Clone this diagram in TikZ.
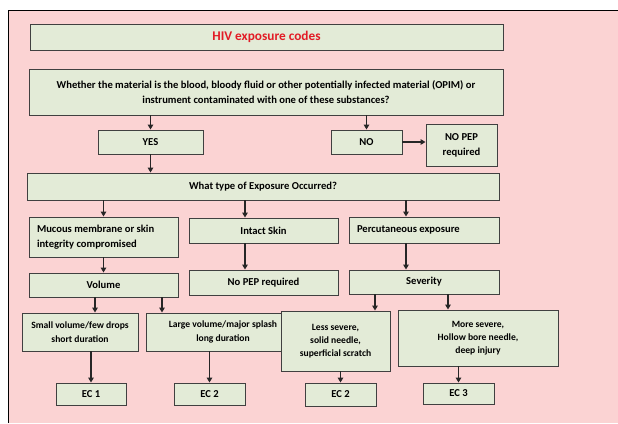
\documentclass[tikz,border=0pt]{standalone}
\usepackage{fontspec}
\setmainfont{Carlito}
\usetikzlibrary{arrows.meta}

\definecolor{bgpink}{RGB}{251,211,211}
\definecolor{boxgreen}{RGB}{227,235,215}
\definecolor{boxline}{RGB}{64,64,64}
\definecolor{titlered}{RGB}{226,28,38}

\tikzset{
	codebox/.style={draw=boxline, line width=0.9pt, fill=boxgreen, inner sep=0pt,
		align=center, font=\fontsize{10.6}{15}\selectfont\bfseries},
	smalltext/.style={font=\fontsize{9.6}{14}\selectfont\bfseries},
	flow/.style={-{Triangle[length=5pt,width=5.5pt]}, line width=1.6pt, black!85}
}

\begin{document}
\begin{tikzpicture}
	\pgfsetxvec{\pgfpoint{1pt}{0pt}}
	\pgfsetyvec{\pgfpoint{0pt}{-1pt}}
	\useasboundingbox (0,0) rectangle (618,423);

	% background sheet
	\fill[bgpink] (8,10) rectangle (618,423);
	\draw[line width=1pt] (8,423) -- (8,10) -- (618,10);

	\node[codebox, minimum width=473, minimum height=26, text=titlered,
		font=\fontsize{13.3}{15}\selectfont\bfseries] at (266.5,37) (title) {HIV exposure codes};
	\node[codebox, minimum width=474, minimum height=46] at (266,92) (question)
		{Whether the material is the blood, bloody fluid or other potentially infected material (OPIM) or\\
		instrument contaminated with one of these substances?};
	\node[codebox, minimum width=105, minimum height=24] at (150.5,142) (yes) {YES};
	\node[codebox, minimum width=71, minimum height=24] at (366.5,142) (no) {NO};
	\node[codebox, minimum width=71, minimum height=42] at (461.5,145) (nopep) {NO PEP\\required};
	\node[codebox, minimum width=472, minimum height=27] at (263,186.5) (exposure) {What type of Exposure Occurred?};

	\node[codebox, minimum width=149, minimum height=40, align=flush left, text width=133] at (103.5,237) (mucous)
		{Mucous membrane or skin\\integrity compromised};
	\node[codebox, minimum width=149, minimum height=25] at (263.5,230.5) (intact) {Intact Skin};
	\node[codebox, minimum width=150, minimum height=26, align=flush left, text width=134] at (424,230) (percut)
		{Percutaneous exposure};

	\node[codebox, minimum width=149, minimum height=24] at (103.5,285) (volume) {Volume};
	\node[codebox, minimum width=149, minimum height=25] at (263.5,282.5) (nopepskin) {No PEP required};
	\node[codebox, minimum width=150, minimum height=24] at (424,282) (severity) {Severity};

	\node[codebox, smalltext, minimum width=116, minimum height=38] at (80,332) (small)
		{Small volume/few drops\\short duration};
	\node[codebox, smalltext, minimum width=154, minimum height=38] at (223,332) (large)
		{Large volume/major splash\\long duration};
	\node[codebox, minimum width=109, minimum height=60, font=\fontsize{9.6}{13}\selectfont\bfseries] at (335.5,341) (less)
		{Less severe,\\solid needle,\\superficial scratch};
	\node[codebox, minimum width=160, minimum height=56, font=\fontsize{9.6}{13}\selectfont\bfseries] at (478,338) (more)
		{More severe,\\Hollow bore needle,\\deep injury};

	\node[codebox, minimum width=70, minimum height=22] at (91,394) (ec1) {EC 1};
	\node[codebox, minimum width=71, minimum height=22] at (209.5,394) (ec2a) {EC 2};
	\node[codebox, minimum width=71, minimum height=23] at (340.5,394.5) (ec2b) {EC 2};
	\node[codebox, minimum width=71, minimum height=21] at (458.5,393.5) (ec3) {EC 3};

	% x positions of the off-centre arrows
	\coordinate (xintact) at (245,0);
	\coordinate (xpercut) at (406,0);
	\coordinate (xsmall) at (95,0);
	\coordinate (xlarge) at (162,0);
	\coordinate (xless) at (375,0);
	\coordinate (xmore) at (448,0);

	\path[flow]
	(question.south -| yes) edge (yes.north)
	(question.south -| no) edge (no.north)
	(no.east) edge (nopep.west |- no.east)
	(yes.south) edge (exposure.north -| yes)
	(exposure.south -| mucous) edge (mucous.north)
	(exposure.south -| xintact) edge (intact.north -| xintact)
	(exposure.south -| xpercut) edge (percut.north -| xpercut)
	(mucous.south) edge (volume.north)
	(intact.south -| xintact) edge (nopepskin.north -| xintact)
	(percut.south -| xpercut) edge (severity.north -| xpercut)
	(volume.south -| xsmall) edge (small.north -| xsmall)
	(volume.south -| xlarge) edge (large.north -| xlarge)
	(severity.south -| xless) edge (less.north -| xless)
	(severity.south -| xmore) edge (more.north -| xmore)
	(small.south -| ec1) edge (ec1.north)
	(large.south -| ec2a) edge (ec2a.north)
	(less.south -| ec2b) edge (ec2b.north)
	(more.south -| ec3) edge (ec3.north);

\end{tikzpicture}
\end{document}
